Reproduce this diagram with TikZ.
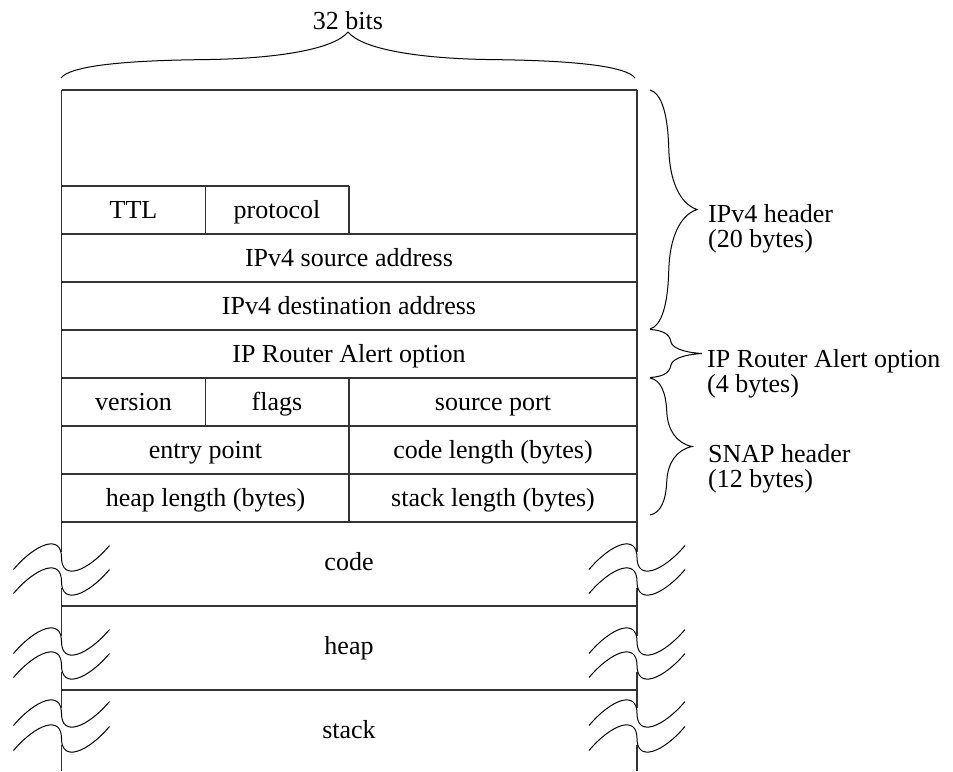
\documentclass[tikz,border=0pt]{standalone}
\usepackage{fontspec}
\setmainfont{Liberation Serif}

% vertical curly brace: x, top y, half height, amplitude
\newcommand\sidebrace[4]{%
  \draw[curl, shift={(#1,#2)}, xscale=#4, yscale=#3]
    (0,0) .. controls (0.25,0.03) and (0.38,0.2) .. (0.40,0.5)
          .. controls (0.42,0.75) and (0.62,0.95) .. (1,1)
          .. controls (0.62,1.05) and (0.42,1.25) .. (0.40,1.5)
          .. controls (0.38,1.8) and (0.25,1.97) .. (0,2);}
% S-shaped break mark centred on a point
\newcommand\wavemark[2]{%
  \draw[curl, shift={(#1,#2)}]
    (-48,12) .. controls (-26,-14) and (0,-24) .. (0,0)
             .. controls (0,24) and (26,14) .. (48,-12);}

\begin{document}
\begin{tikzpicture}[x=1pt,y=-1pt,
  frame/.style={line width=1.3pt, draw=black!80},
  curl/.style={line width=1pt, draw=black},
  lbl/.style={font=\fontsize{26}{24.5}\selectfont, inner sep=0pt, anchor=base},
  side/.style={lbl, anchor=base west}]
\useasboundingbox (0,0) rectangle (953,771);

% ---- width brace ----
\draw[curl, shift={(61,78)}, xscale=287, yscale=46]
  (0,0) .. controls (0.03,-0.25) and (0.2,-0.38) .. (0.5,-0.40)
        .. controls (0.75,-0.42) and (0.95,-0.62) .. (1,-1)
        .. controls (1.05,-0.62) and (1.25,-0.42) .. (1.5,-0.40)
        .. controls (1.8,-0.38) and (1.97,-0.25) .. (2,0);
\node[lbl] (width) at (348,29) {32 bits};

% ---- horizontal rules ----
\foreach \y in {90,234,282,330,378,426,474,522,606,690}
  \draw[frame] (61.5,\y) -- (637,\y);
\draw[frame] (61.5,186) -- (349,186);

% ---- inner dividers ----
\draw[frame] (205.5,186) -- (205.5,234);
\draw[frame] (349,186) -- (349,234);
\draw[frame] (205.5,378) -- (205.5,426);
\draw[frame] (349,378) -- (349,522);

% ---- outer sides, interrupted by break marks ----
\foreach \x in {61.5,637} {
  \draw[frame] (\x,90) -- (\x,551.5);
  \draw[frame] (\x,587.5) -- (\x,635.5);
  \draw[frame] (\x,671.5) -- (\x,707.5);
  \draw[frame] (\x,744.5) -- (\x,771);
  \wavemark{\x}{557.5}\wavemark{\x}{581.5}
  \wavemark{\x}{641.5}\wavemark{\x}{665.5}
  \wavemark{\x}{713.5}\wavemark{\x}{738.5}
}

% ---- field labels ----
\node[lbl] (ttl)      at (133.5,218.5) {TTL};
\node[lbl] (proto)    at (277,218.5)   {protocol};
\node[lbl] (src)      at (349,266.5)   {IPv4 source address};
\node[lbl] (dst)      at (349,314.5)   {IPv4 destination address};
\node[lbl] (ra)       at (349,362.5)   {IP Router Alert option};
\node[lbl] (version)  at (133.5,410.5) {version};
\node[lbl] (flags)    at (277,410.5)   {flags};
\node[lbl] (sport)    at (493,410.5)   {source port};
\node[lbl] (entry)    at (205.5,458.5) {entry point};
\node[lbl] (codelen)  at (493,458.5)   {code length (bytes)};
\node[lbl] (heaplen)  at (205.5,506.5) {heap length (bytes)};
\node[lbl] (stacklen) at (493,506.5)   {stack length (bytes)};
\node[lbl] (code)     at (349,570)     {code};
\node[lbl] (heap)     at (349,654)     {heap};
\node[lbl] (stack)    at (349,738)     {stack};

% ---- section braces ----
\sidebrace{650}{90}{119.5}{47}
\sidebrace{650}{329.5}{24}{52}
\sidebrace{650}{378}{68.5}{42}
\node[side] (iplbl) at (708,222)
  {\begin{tabular}[t]{@{}l@{}}IPv4 header\\(20 bytes)\end{tabular}};
\node[side] (ralbl) at (707,367)
  {\begin{tabular}[t]{@{}l@{}}IP Router Alert option\\(4 bytes)\end{tabular}};
\node[side] (snaplbl) at (708,462)
  {\begin{tabular}[t]{@{}l@{}}SNAP header\\(12 bytes)\end{tabular}};
\end{tikzpicture}
\end{document}
